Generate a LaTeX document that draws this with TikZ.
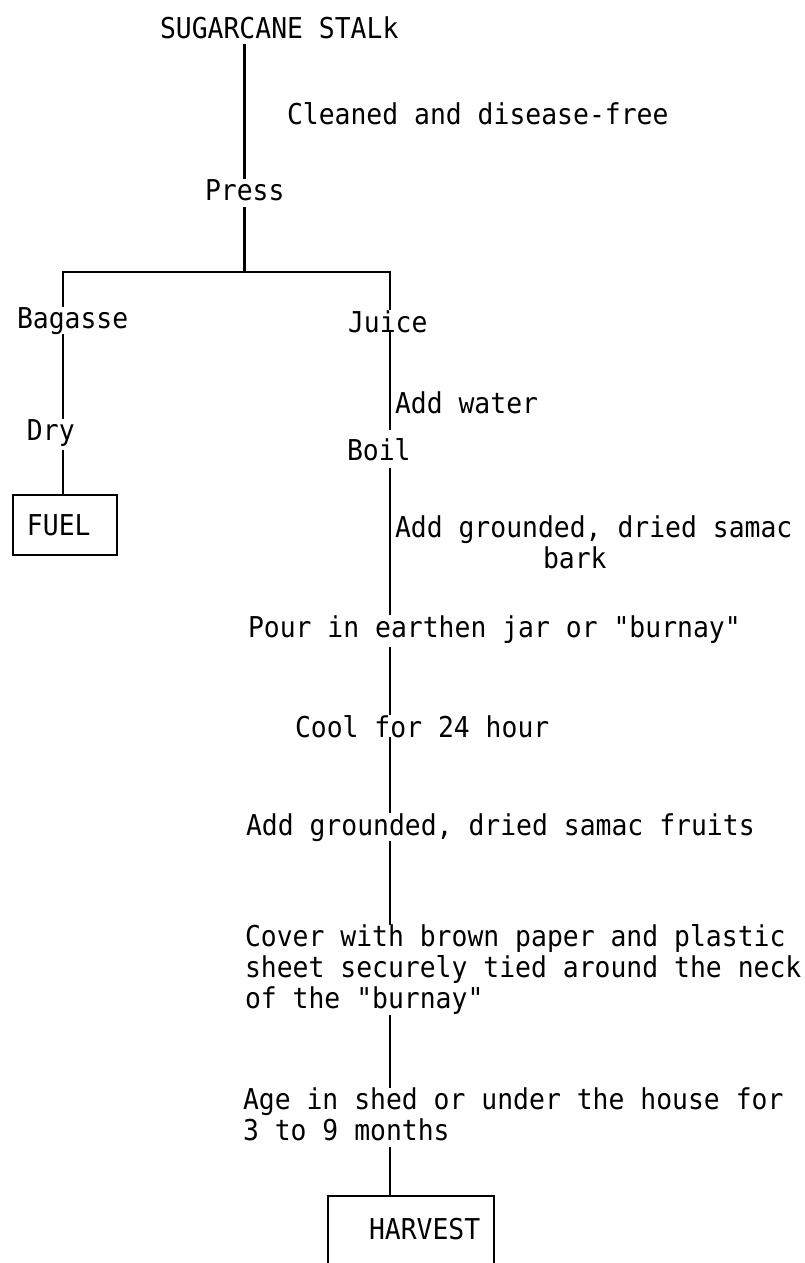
\documentclass[tikz,border=0pt]{standalone}
\usepackage{fontspec}
\setmonofont[FakeStretch=0.92]{DejaVu Sans Mono}
\begin{document}
\begin{tikzpicture}[x=1pt,y=-1pt,
  tw/.style={font=\ttfamily\fontsize{28.7}{31}\selectfont},
  txt/.style={tw, inner sep=0pt, outer sep=0pt, anchor=base west},
  mtxt/.style={txt, anchor=north west, align=left},
  flow/.style={line width=2.6pt},
  endbox/.style={draw, line width=2.6pt, anchor=north west, inner sep=0pt, outer sep=0pt}]
\useasboundingbox[fill=white] (0,0) rectangle (805,1263);
\clip (0,0) rectangle (805,1263);
% top
\node[txt] (stalk) at (160,38) {SUGARCANE STALk};
\node[txt] (clean) at (287,124) {Cleaned and disease-free};
\node[txt] (press) at (205,200) {Press};
\coordinate (bl) at (63,272);
\coordinate (br) at (390,272);
% left branch
\node[txt] (bagasse) at (17,328) {Bagasse};
\node[txt] (dry) at (27,440) {Dry};
\node[endbox, tw, text width=76pt, align=left, inner xsep=14pt, minimum height=60pt] (fuel) at (13,495) {FUEL};
% right branch
\node[txt] (juice) at (348,332) {Juice};
\node[txt] (water) at (395,413) {Add water};
\node[txt] (boil) at (347,460) {Boil};
\node[mtxt] (bark) at (395,516) {Add grounded, dried samac\\\hspace*{148pt}bark};
\node[txt] (pour) at (248,637) {Pour in earthen jar or "burnay"};
\node[txt] (cool) at (295,737) {Cool for 24 hour};
\node[txt] (fruits) at (246,835) {Add grounded, dried samac fruits};
\node[mtxt] (cover) at (245,925) {Cover with brown paper and plastic\\sheet securely tied around the neck\\of the "burnay"};
\node[mtxt] (age) at (243,1088) {Age in shed or under the house for\\3 to 9 months};
\node[endbox, minimum width=166pt, minimum height=90pt] (hbox) at (328,1196) {};
\node[txt] (harvest) at (369,1239) {HARVEST};
% connectors
\draw[flow, shorten <=6pt] (stalk.south -| press) -- (press.north);
\draw[flow, shorten <=7pt] (press.south) -- (press.south |- bl);
\draw[flow] (bagasse.north -| bl) -- (bl) -- (br) -- (juice.north -| br);
\draw[flow] (bagasse.south -| bl) -- (dry.north -| bl);
\draw[flow, shorten <=4pt] (dry.south -| bl) -- (fuel.north -| bl);
\draw[flow, shorten >=8pt] (juice.south -| br) -- (boil.north -| br);
\draw[flow, shorten <=8pt] (boil.south -| br) -- (pour.north -| br);
\draw[flow, shorten <=4pt] (pour.south -| br) -- (cool.north -| br);
\draw[flow] (cool.south -| br) -- (fruits.north -| br);
\draw[flow] (fruits.south -| br) -- (cover.north -| br);
\draw[flow] (cover.south -| br) -- (age.north -| br);
\draw[flow, shorten <=6pt] (age.south -| br) -- (hbox.north -| br);
\end{tikzpicture}
\end{document}
